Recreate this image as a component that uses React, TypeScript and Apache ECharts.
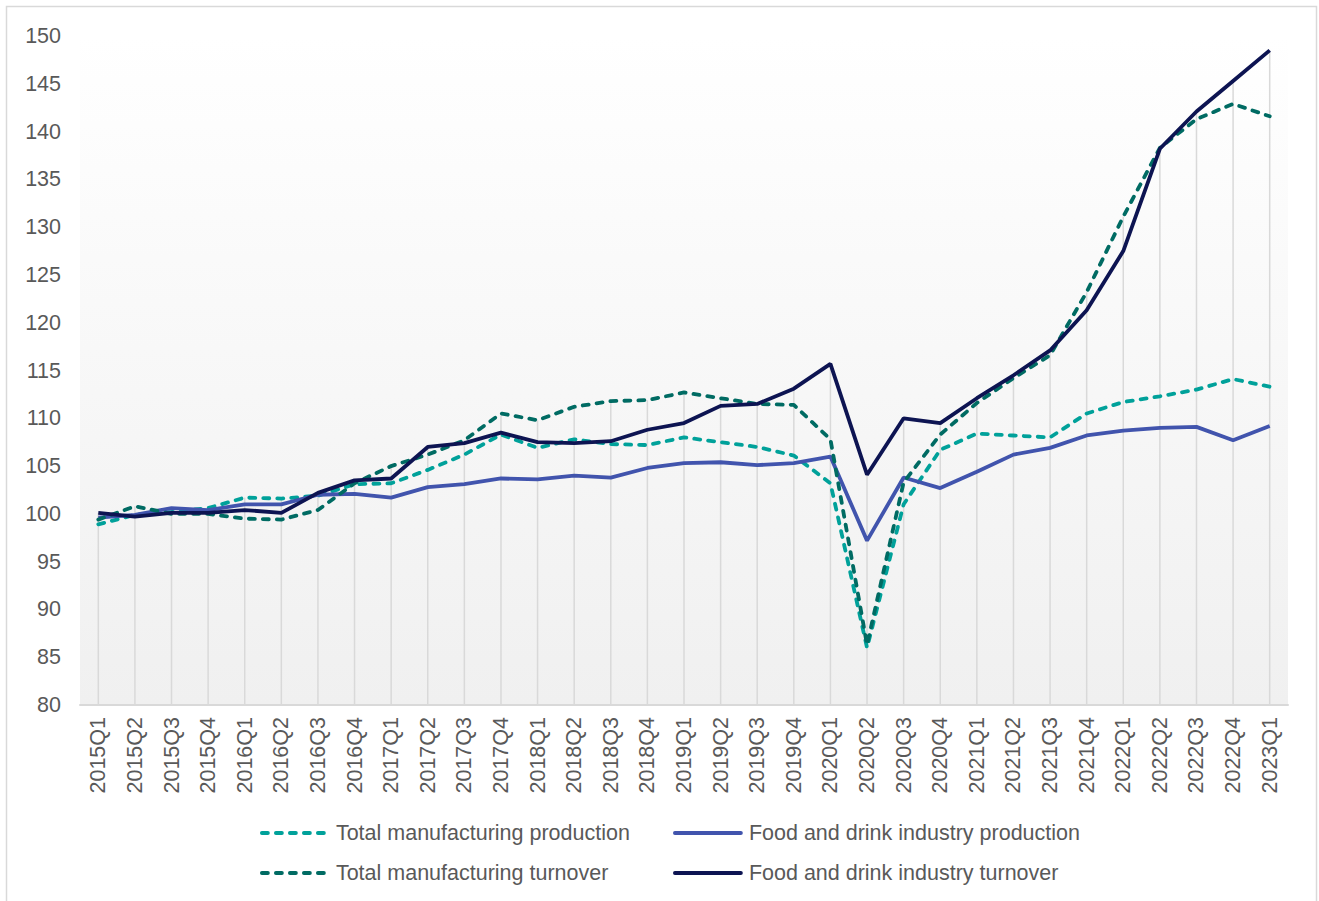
import React, { useEffect, useRef } from "react";
import * as echarts from "echarts";

const categories = [
  "2015Q1", "2015Q2", "2015Q3", "2015Q4",
  "2016Q1", "2016Q2", "2016Q3", "2016Q4",
  "2017Q1", "2017Q2", "2017Q3", "2017Q4",
  "2018Q1", "2018Q2", "2018Q3", "2018Q4",
  "2019Q1", "2019Q2", "2019Q3", "2019Q4",
  "2020Q1", "2020Q2", "2020Q3", "2020Q4",
  "2021Q1", "2021Q2", "2021Q3", "2021Q4",
  "2022Q1", "2022Q2", "2022Q3", "2022Q4",
  "2023Q1",
];

const totalManufacturingProduction = [
  98.9, 99.9, 100.2, 100.6, 101.7, 101.6, 101.9, 103.1, 103.2, 104.6, 106.2,
  108.3, 106.9, 107.8, 107.3, 107.2, 108.0, 107.5, 107.0, 106.1, 103.2, 86.0,
  101.0, 106.7, 108.4, 108.2, 108.0, 110.5, 111.7, 112.3, 113.0, 114.1, 113.3,
];

const foodDrinkProduction = [
  99.6, 99.9, 100.6, 100.4, 101.0, 101.0, 102.0, 102.1, 101.7, 102.8, 103.1,
  103.7, 103.6, 104.0, 103.8, 104.8, 105.3, 105.4, 105.1, 105.3, 106.0, 97.2,
  103.8, 102.7, 104.4, 106.2, 106.9, 108.2, 108.7, 109.0, 109.1, 107.7, 109.2,
];

const totalManufacturingTurnover = [
  99.4, 100.8, 100.0, 100.0, 99.5, 99.4, 100.4, 103.2, 105.0, 106.2, 107.7,
  110.5, 109.8, 111.2, 111.8, 111.9, 112.7, 112.1, 111.5, 111.4, 107.8, 86.3,
  103.3, 108.3, 111.6, 114.2, 116.6, 123.2, 131.1, 138.3, 141.3, 142.9, 141.6,
];

const foodDrinkTurnover = [
  100.1, 99.7, 100.1, 100.1, 100.4, 100.1, 102.2, 103.5, 103.7, 107.0, 107.4,
  108.5, 107.5, 107.4, 107.6, 108.8, 109.5, 111.3, 111.5, 113.1, 115.7, 104.1,
  110.0, 109.5, 112.1, 114.5, 117.1, 121.3, 127.5, 138.2, 142.1, 145.3, 148.5,
];

const seriesNames = [
  "Total manufacturing production",
  "Food and drink industry production",
  "Total manufacturing turnover",
  "Food and drink industry turnover",
];

const yMin = 80;
const yMax = 150;
const yInterval = 5;

const FONT = "'Liberation Sans', Arial, sans-serif";
const TEXT_COLOR = "#595959";

export default function App() {
  const ref = useRef<HTMLDivElement>(null);

  useEffect(() => {
    document.body.style.margin = "0";
    if (!ref.current) return;
    const chart = echarts.init(ref.current, undefined, { renderer: "svg" });

    const dropTops = categories.map((_, i) => [
      i,
      Math.max(
        totalManufacturingProduction[i],
        foodDrinkProduction[i],
        totalManufacturingTurnover[i],
        foodDrinkTurnover[i]
      ),
    ]);

    const dashed = [6, 8];
    const LW = 3.8;

    const legendCommon = {
      orient: "vertical",
      top: 816,
      itemWidth: 66,
      itemHeight: 14,
      itemGap: 16,
      itemStyle: { opacity: 0 },
      lineStyle: { width: LW, cap: "round" },
      textStyle: {
        fontSize: 21.5,
        color: TEXT_COLOR,
        fontFamily: FONT,
        lineHeight: 24,
        padding: [0, 0, 0, 3],
      },
    };

    chart.setOption({
      animation: false,
      textStyle: { fontFamily: FONT },
      graphic: [
        {
          type: "rect",
          silent: true,
          z: -10,
          shape: { x: 6.5, y: 6.5, width: 1310, height: 930 },
          style: { fill: "none", stroke: "#d9d9d9", lineWidth: 1.5 },
        },
      ],
      grid: {
        left: 80,
        right: 31,
        top: 36,
        bottom: 196,
        show: true,
        borderWidth: 0,
        backgroundColor: new echarts.graphic.LinearGradient(0, 0, 0, 1, [
          { offset: 0, color: "#ffffff" },
          { offset: 1, color: "#f0f0f0" },
        ]),
      },
      legend: [
        { ...legendCommon, data: [seriesNames[0], seriesNames[2]], left: 255 },
        { ...legendCommon, data: [seriesNames[1], seriesNames[3]], left: 668 },
      ],
      xAxis: {
        type: "category",
        data: categories,
        boundaryGap: true,
        axisLine: { show: true, lineStyle: { color: "#d9d9d9", width: 2 } },
        axisTick: { show: false },
        splitLine: { show: false },
        axisLabel: {
          rotate: 90,
          interval: 0,
          margin: 12,
          fontSize: 21.5,
          color: TEXT_COLOR,
          fontFamily: FONT,
        },
      },
      yAxis: {
        type: "value",
        min: yMin,
        max: yMax,
        interval: yInterval,
        axisLine: { show: false },
        axisTick: { show: false },
        splitLine: { show: false },
        axisLabel: {
          margin: 19,
          fontSize: 21.5,
          color: TEXT_COLOR,
          fontFamily: FONT,
        },
      },
      series: [
        {
          type: "custom",
          name: "drop",
          silent: true,
          z: 1,
          data: dropTops,
          renderItem: (params: any, api: any) => {
            const idx = api.value(0);
            const top = api.coord([idx, api.value(1)]);
            const bottom = api.coord([idx, yMin]);
            return {
              type: "line",
              shape: { x1: top[0], y1: top[1], x2: bottom[0], y2: bottom[1] },
              style: { stroke: "#d9d9d9", lineWidth: 1.5 },
            };
          },
        },
        {
          type: "line",
          name: seriesNames[0],
          data: totalManufacturingProduction,
          showSymbol: false,
          symbol: "none",
          z: 2,
          color: "#00a19a",
          lineStyle: { color: "#00a19a", width: LW, type: dashed, cap: "round" },
        },
        {
          type: "line",
          name: seriesNames[1],
          data: foodDrinkProduction,
          showSymbol: false,
          symbol: "none",
          z: 3,
          color: "#4154ad",
          lineStyle: { color: "#4154ad", width: LW },
        },
        {
          type: "line",
          name: seriesNames[2],
          data: totalManufacturingTurnover,
          showSymbol: false,
          symbol: "none",
          z: 4,
          color: "#006b63",
          lineStyle: { color: "#006b63", width: LW, type: dashed, cap: "round" },
        },
        {
          type: "line",
          name: seriesNames[3],
          data: foodDrinkTurnover,
          showSymbol: false,
          symbol: "none",
          z: 5,
          color: "#0d1452",
          lineStyle: { color: "#0d1452", width: LW },
        },
      ],
    });

    return () => chart.dispose();
  }, []);

  return (
    <div
      ref={ref}
      style={{ position: "fixed", left: 0, top: 0, width: 1319, height: 901, background: "#ffffff" }}
    />
  );
}
